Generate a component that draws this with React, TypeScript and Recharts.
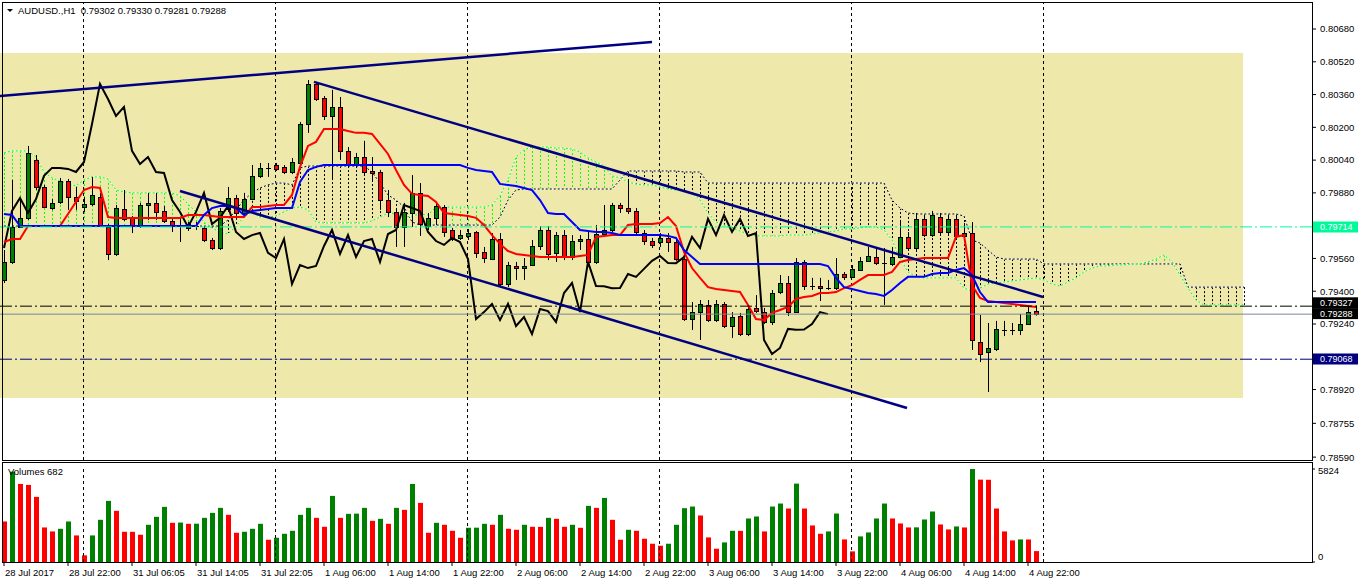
import React from 'react';
import { ComposedChart, Bar, Line, XAxis, YAxis, ReferenceLine, ReferenceArea } from 'recharts';

const FONT = '"Liberation Sans", Arial, sans-serif';
const FS = 9.5;

// ---- hourly candles (AUDUSD H1) ----
const opens = [
  0.79455, 0.79543, 0.79714, 0.79758, 0.80041, 0.79909, 0.79806, 0.79836, 0.79938, 0.79860,
  0.79811, 0.79826, 0.79860, 0.79714, 0.79582, 0.79801, 0.79758, 0.79718, 0.79821, 0.79831,
  0.79792, 0.79743, 0.79718, 0.79728, 0.79718, 0.79709, 0.79650, 0.79611, 0.79801, 0.79855,
  0.79782, 0.79850, 0.79963, 0.80002, 0.80016, 0.80007, 0.79982, 0.80026, 0.80216, 0.80412,
  0.80343, 0.80256, 0.80300, 0.80085, 0.80021, 0.80055, 0.79987, 0.79982, 0.79845, 0.79787,
  0.79714, 0.79782, 0.79880, 0.79718, 0.79758, 0.79811, 0.79699, 0.79660, 0.79670, 0.79689,
  0.79592, 0.79557, 0.79655, 0.79435, 0.79523, 0.79513, 0.79528, 0.79621, 0.79699, 0.79587,
  0.79674, 0.79567, 0.79645, 0.79655, 0.79543, 0.79679, 0.79699, 0.79821, 0.79806, 0.79792,
  0.79684, 0.79645, 0.79640, 0.79660, 0.79640, 0.79557, 0.79264, 0.79298, 0.79333, 0.79259,
  0.79338, 0.79230, 0.79279, 0.79191, 0.79318, 0.79298, 0.79250, 0.79396, 0.79440, 0.79298,
  0.79543, 0.79425, 0.79425, 0.79415, 0.79415, 0.79484, 0.79470, 0.79504, 0.79548, 0.79567,
  0.79538, 0.79533, 0.79567, 0.79665, 0.79611, 0.79753, 0.79674, 0.79762, 0.79689, 0.79753,
  0.79670, 0.79684, 0.79152, 0.79103, 0.79118, 0.79211, 0.79211, 0.79211, 0.79240, 0.79302,
];
const highs = [
  0.79601, 0.79943, 0.79845, 0.80109, 0.80065, 0.79919, 0.79850, 0.79953, 0.79948, 0.79909,
  0.79860, 0.79958, 0.79880, 0.79728, 0.79821, 0.79894, 0.79767, 0.79831, 0.79880, 0.79880,
  0.79816, 0.79758, 0.79762, 0.79738, 0.79738, 0.79718, 0.79660, 0.79806, 0.79909, 0.79870,
  0.79880, 0.80016, 0.80026, 0.80026, 0.80026, 0.80016, 0.80050, 0.80226, 0.80431, 0.80422,
  0.80353, 0.80383, 0.80348, 0.80104, 0.80075, 0.80134, 0.80055, 0.79992, 0.79894, 0.79797,
  0.79831, 0.79967, 0.79928, 0.79782, 0.79836, 0.79821, 0.79709, 0.79699, 0.79704, 0.79694,
  0.79616, 0.79684, 0.79684, 0.79543, 0.79543, 0.79562, 0.79650, 0.79718, 0.79718, 0.79689,
  0.79699, 0.79674, 0.79674, 0.79689, 0.79723, 0.79821, 0.79831, 0.79831, 0.79943, 0.79806,
  0.79699, 0.79660, 0.79684, 0.79684, 0.79650, 0.79562, 0.79347, 0.79357, 0.79357, 0.79357,
  0.79347, 0.79298, 0.79294, 0.79333, 0.79381, 0.79318, 0.79406, 0.79479, 0.79474, 0.79562,
  0.79552, 0.79465, 0.79465, 0.79455, 0.79562, 0.79494, 0.79528, 0.79567, 0.79616, 0.79611,
  0.79611, 0.79616, 0.79748, 0.79689, 0.79782, 0.79772, 0.79792, 0.79782, 0.79772, 0.79767,
  0.79733, 0.79738, 0.79284, 0.79245, 0.79255, 0.79255, 0.79245, 0.79289, 0.79323, 0.79330,
];
const lows = [
  0.79440, 0.79533, 0.79709, 0.79748, 0.79894, 0.79806, 0.79797, 0.79826, 0.79797, 0.79797,
  0.79787, 0.79816, 0.79714, 0.79552, 0.79572, 0.79743, 0.79684, 0.79709, 0.79748, 0.79748,
  0.79733, 0.79689, 0.79640, 0.79694, 0.79699, 0.79640, 0.79601, 0.79601, 0.79787, 0.79777,
  0.79762, 0.79845, 0.79953, 0.79958, 0.79987, 0.79972, 0.79972, 0.80016, 0.80173, 0.80329,
  0.80236, 0.79943, 0.80041, 0.80007, 0.80007, 0.79967, 0.79943, 0.79797, 0.79762, 0.79616,
  0.79616, 0.79714, 0.79670, 0.79699, 0.79723, 0.79665, 0.79645, 0.79650, 0.79650, 0.79562,
  0.79538, 0.79552, 0.79420, 0.79420, 0.79455, 0.79455, 0.79523, 0.79601, 0.79552, 0.79543,
  0.79552, 0.79552, 0.79601, 0.79538, 0.79533, 0.79670, 0.79689, 0.79782, 0.79777, 0.79679,
  0.79626, 0.79611, 0.79616, 0.79592, 0.79548, 0.79255, 0.79211, 0.79162, 0.79250, 0.79250,
  0.79220, 0.79172, 0.79181, 0.79181, 0.79294, 0.79240, 0.79235, 0.79386, 0.79279, 0.79294,
  0.79406, 0.79406, 0.79352, 0.79406, 0.79406, 0.79455, 0.79465, 0.79499, 0.79543, 0.79528,
  0.79333, 0.79523, 0.79562, 0.79601, 0.79601, 0.79665, 0.79665, 0.79679, 0.79679, 0.79660,
  0.79660, 0.79113, 0.79054, 0.78908, 0.79108, 0.79181, 0.79186, 0.79186, 0.79235, 0.79281,
];
const closes = [
  0.79543, 0.79714, 0.79758, 0.80075, 0.79909, 0.79811, 0.79831, 0.79938, 0.79860, 0.79841,
  0.79826, 0.79870, 0.79718, 0.79582, 0.79806, 0.79753, 0.79718, 0.79821, 0.79831, 0.79787,
  0.79743, 0.79723, 0.79723, 0.79709, 0.79718, 0.79650, 0.79611, 0.79792, 0.79855, 0.79782,
  0.79850, 0.79963, 0.80002, 0.80001, 0.79997, 0.79982, 0.80031, 0.80216, 0.80412, 0.80338,
  0.80256, 0.80300, 0.80085, 0.80021, 0.80055, 0.79982, 0.79977, 0.79845, 0.79787, 0.79714,
  0.79787, 0.79880, 0.79728, 0.79758, 0.79816, 0.79689, 0.79655, 0.79674, 0.79684, 0.79587,
  0.79562, 0.79655, 0.79435, 0.79528, 0.79513, 0.79523, 0.79621, 0.79699, 0.79582, 0.79674,
  0.79567, 0.79645, 0.79655, 0.79543, 0.79679, 0.79699, 0.79821, 0.79806, 0.79792, 0.79689,
  0.79645, 0.79626, 0.79660, 0.79640, 0.79557, 0.79264, 0.79298, 0.79338, 0.79259, 0.79338,
  0.79230, 0.79274, 0.79191, 0.79313, 0.79303, 0.79250, 0.79391, 0.79440, 0.79298, 0.79543,
  0.79425, 0.79424, 0.79415, 0.79416, 0.79484, 0.79470, 0.79509, 0.79548, 0.79572, 0.79538,
  0.79537, 0.79567, 0.79665, 0.79611, 0.79753, 0.79674, 0.79772, 0.79689, 0.79753, 0.79670,
  0.79684, 0.79162, 0.79093, 0.79123, 0.79216, 0.79212, 0.79213, 0.79240, 0.79298, 0.79288,
];

// ---- Ichimoku lines ----
const tenkan = [
  0.79640, 0.79655, 0.79655, 0.79718, 0.79718, 0.79718, 0.79718, 0.79718, 0.79777, 0.79836,
  0.79894, 0.79909, 0.79904, 0.79762, 0.79758, 0.79758, 0.79758, 0.79758, 0.79758, 0.79758,
  0.79758, 0.79758, 0.79758, 0.79772, 0.79772, 0.79772, 0.79767, 0.79762, 0.79762, 0.79762,
  0.79762, 0.79811, 0.79811, 0.79816, 0.79821, 0.79821, 0.79870, 0.80007, 0.80109, 0.80129,
  0.80192, 0.80192, 0.80192, 0.80182, 0.80173, 0.80173, 0.80168, 0.80119, 0.80070, 0.79992,
  0.79919, 0.79875, 0.79870, 0.79865, 0.79836, 0.79782, 0.79777, 0.79772, 0.79767, 0.79758,
  0.79723, 0.79674, 0.79631, 0.79596, 0.79582, 0.79577, 0.79572, 0.79567, 0.79567, 0.79567,
  0.79567, 0.79567, 0.79572, 0.79577, 0.79665, 0.79670, 0.79674, 0.79674, 0.79723, 0.79728,
  0.79728, 0.79728, 0.79733, 0.79762, 0.79718, 0.79592, 0.79513, 0.79465, 0.79420, 0.79411,
  0.79406, 0.79401, 0.79396, 0.79333, 0.79264, 0.79259, 0.79294, 0.79308, 0.79323, 0.79362,
  0.79372, 0.79377, 0.79391, 0.79391, 0.79396, 0.79415, 0.79430, 0.79455, 0.79479, 0.79479,
  0.79479, 0.79494, 0.79543, 0.79552, 0.79557, 0.79562, 0.79562, 0.79562, 0.79562, 0.79665,
  0.79674, 0.79430, 0.79367, 0.79352, 0.79347, 0.79342, 0.79338, 0.79333, 0.79328, 0.79323,
];
const kijun = [
  0.79777, 0.79772, 0.79718, 0.79718, 0.79718, 0.79718, 0.79718, 0.79718, 0.79718, 0.79718,
  0.79718, 0.79718, 0.79718, 0.79718, 0.79718, 0.79718, 0.79718, 0.79718, 0.79718, 0.79718,
  0.79718, 0.79718, 0.79718, 0.79718, 0.79718, 0.79772, 0.79806, 0.79816, 0.79816, 0.79806,
  0.79772, 0.79792, 0.79797, 0.79801, 0.79806, 0.79806, 0.79806, 0.79933, 0.79992, 0.80007,
  0.80016, 0.80016, 0.80016, 0.80016, 0.80016, 0.80016, 0.80016, 0.80016, 0.80016, 0.80016,
  0.80016, 0.80016, 0.80016, 0.80016, 0.80016, 0.80016, 0.80016, 0.80016, 0.80002, 0.79992,
  0.79987, 0.79982, 0.79924, 0.79919, 0.79914, 0.79904, 0.79894, 0.79845, 0.79782, 0.79777,
  0.79777, 0.79738, 0.79699, 0.79694, 0.79689, 0.79689, 0.79684, 0.79674, 0.79674, 0.79674,
  0.79674, 0.79674, 0.79674, 0.79670, 0.79660, 0.79601, 0.79567, 0.79533, 0.79533, 0.79533,
  0.79533, 0.79533, 0.79533, 0.79533, 0.79533, 0.79533, 0.79533, 0.79533, 0.79533, 0.79533,
  0.79533, 0.79533, 0.79533, 0.79523, 0.79465, 0.79420, 0.79411, 0.79401, 0.79391, 0.79386,
  0.79377, 0.79406, 0.79440, 0.79470, 0.79470, 0.79470, 0.79484, 0.79489, 0.79489, 0.79504,
  0.79513, 0.79479, 0.79396, 0.79347, 0.79347, 0.79347, 0.79347, 0.79347, 0.79347, 0.79347,
];
const spanA = [
  0.80075, 0.80085, 0.80085, 0.80085, 0.80055, 0.79982, 0.79953, 0.79938, 0.79923, 0.79914,
  0.79943, 0.79958, 0.79958, 0.79948, 0.79894, 0.79885, 0.79880, 0.79880, 0.79880, 0.79880,
  0.79880, 0.79880, 0.79865, 0.79826, 0.79787, 0.79738, 0.79709, 0.79689, 0.79679, 0.79718,
  0.79762, 0.79787, 0.79762, 0.79762, 0.79767, 0.79787, 0.79806, 0.79811, 0.79797, 0.79738,
  0.79733, 0.79733, 0.79733, 0.79733, 0.79733, 0.79733, 0.79743, 0.79762, 0.79782, 0.79777,
  0.79762, 0.79767, 0.79777, 0.79772, 0.79811, 0.79811, 0.79811, 0.79811, 0.79811, 0.79811,
  0.79811, 0.79821, 0.79865, 0.79943, 0.80055, 0.80090, 0.80104, 0.80104, 0.80104, 0.80099,
  0.80099, 0.80094, 0.80080, 0.80050, 0.80031, 0.80012, 0.79963, 0.79953, 0.79933, 0.79923,
  0.79919, 0.79919, 0.79909, 0.79899, 0.79894, 0.79889, 0.79880, 0.79845, 0.79782, 0.79738,
  0.79723, 0.79709, 0.79694, 0.79679, 0.79670, 0.79670, 0.79670, 0.79670, 0.79674, 0.79674,
  0.79674, 0.79679, 0.79684, 0.79689, 0.79694, 0.79704, 0.79704, 0.79709, 0.79714, 0.79714,
  0.79699, 0.79650, 0.79562, 0.79494, 0.79470, 0.79465, 0.79465, 0.79465, 0.79465, 0.79465,
  0.79415, 0.79401, 0.79415, 0.79435, 0.79440, 0.79445, 0.79450, 0.79455, 0.79460, 0.79465,
  0.79455, 0.79435, 0.79425, 0.79445, 0.79465, 0.79494, 0.79513, 0.79523, 0.79523, 0.79528,
  0.79528, 0.79533, 0.79533, 0.79543, 0.79557, 0.79577, 0.79543, 0.79479, 0.79415, 0.79357,
  0.79333, 0.79333, 0.79333, 0.79333, 0.79333, 0.79333,
];
const spanB = [
  0.79718, 0.79718, 0.79718, 0.79718, 0.79718, 0.79718, 0.79718, 0.79718, 0.79718, 0.79718,
  0.79718, 0.79718, 0.79718, 0.79718, 0.79718, 0.79718, 0.79718, 0.79718, 0.79718, 0.79718,
  0.79718, 0.79718, 0.79718, 0.79718, 0.79718, 0.79718, 0.79718, 0.79718, 0.79748, 0.79797,
  0.79845, 0.79880, 0.79904, 0.79919, 0.79928, 0.79928, 0.79919, 0.80002, 0.80011, 0.80011,
  0.80011, 0.80011, 0.80011, 0.80011, 0.80011, 0.80011, 0.79982, 0.79928, 0.79870, 0.79845,
  0.79811, 0.79738, 0.79723, 0.79723, 0.79723, 0.79723, 0.79723, 0.79723, 0.79723, 0.79723,
  0.79723, 0.79723, 0.79762, 0.79845, 0.79894, 0.79899, 0.79899, 0.79899, 0.79899, 0.79899,
  0.79899, 0.79899, 0.79899, 0.79899, 0.79899, 0.79899, 0.79899, 0.79943, 0.79987, 0.79987,
  0.79987, 0.79987, 0.79987, 0.79987, 0.79987, 0.79982, 0.79982, 0.79982, 0.79928, 0.79928,
  0.79928, 0.79928, 0.79928, 0.79928, 0.79928, 0.79928, 0.79928, 0.79928, 0.79928, 0.79928,
  0.79928, 0.79928, 0.79928, 0.79928, 0.79928, 0.79928, 0.79928, 0.79928, 0.79928, 0.79928,
  0.79928, 0.79845, 0.79806, 0.79782, 0.79777, 0.79777, 0.79777, 0.79777, 0.79777, 0.79777,
  0.79767, 0.79650, 0.79635, 0.79601, 0.79567, 0.79557, 0.79557, 0.79557, 0.79557, 0.79557,
  0.79533, 0.79533, 0.79533, 0.79533, 0.79533, 0.79533, 0.79533, 0.79533, 0.79533, 0.79533,
  0.79533, 0.79533, 0.79533, 0.79533, 0.79533, 0.79533, 0.79533, 0.79533, 0.79420, 0.79420,
  0.79420, 0.79420, 0.79420, 0.79420, 0.79420, 0.79420,
];

// ---- tick volumes ----
const volumes = [
  2538, 5658, 4888, 4826, 4077, 2163, 1914, 2080, 2538, 1664,
  416, 1664, 2642, 3827, 3203, 1893, 1890, 1706, 2330, 2829,
  3453, 2454, 2470, 2392, 2400, 2766, 3078, 3390, 2954, 1830,
  1893, 2080, 2392, 1394, 1518, 1768, 1955, 2954, 3390, 2766,
  2205, 4139, 2766, 3016, 3030, 3390, 2579, 2704, 2392, 3390,
  3266, 4888, 3702, 1830, 2454, 2330, 1955, 1518, 2142, 2150,
  2392, 2330, 2954, 2080, 2018, 2330, 2205, 2200, 2766, 2704,
  2205, 2330, 2142, 3515, 3390, 4014, 2642, 1394, 2018, 1955,
  1456, 1144, 1019, 1144, 2330, 3370, 3474, 2912, 1539, 832,
  1227, 1955, 1950, 2725, 2850, 1914, 3474, 3661, 3349, 4909,
  3349, 2288, 1768, 1914, 3037, 1414, 666, 1602, 1851, 2725,
  3661, 2725, 2413, 2163, 2170, 2662, 3162, 2350, 2038, 2226,
  2163, 5824, 5158, 5150, 3349, 1914, 1352, 1414, 1410, 682,
];

// ---- axis labels ----
const priceTicks = [0.8068, 0.8052, 0.8036, 0.802, 0.8004, 0.7988, 0.7956, 0.794, 0.7924, 0.7892, 0.78755, 0.7859];
const timeTickIdx = [0, 8, 16, 24, 32, 40, 48, 56, 64, 72, 80, 88, 96, 104, 112, 120, 128];
const timeLabels = [
  '28 Jul 2017', '28 Jul 22:00', '31 Jul 06:05', '31 Jul 14:05', '31 Jul 22:05', '1 Aug 06:00',
  '1 Aug 14:00', '1 Aug 22:00', '2 Aug 06:00', '2 Aug 14:00', '2 Aug 22:00', '3 Aug 06:00',
  '3 Aug 14:00', '3 Aug 22:00', '4 Aug 06:00', '4 Aug 14:00', '4 Aug 22:00',
];
const dayGrid = [9.94, 33.94, 57.94, 81.94, 105.94, 129.94];

// ---- chart objects ----
const trendLines = [
  { x1: -0.5, y1: 0.80353, x2: 81, y2: 0.80617 },
  { x1: 38.75, y1: 0.80422, x2: 129.875, y2: 0.79372 },
  { x1: 22, y1: 0.79889, x2: 112.875, y2: 0.7883 },
];
const zone = { x1: -0.5, x2: 154.875, y1: 0.78879, y2: 0.80563 };
const levels = [
  { price: 0.79714, color: '#00FA9A', tag: '#00FA9A', dash: '12 3 2 3', label: '0.79714', nudge: 0 },
  { price: 0.79327, color: '#000000', tag: '#000000', dash: '12 3 2 3', label: '0.79327', nudge: -3.2 },
  { price: 0.79288, color: '#778899', tag: '#000000', dash: undefined, label: '0.79288', nudge: -0.4 },
  { price: 0.79068, color: '#000080', tag: '#000080', dash: '12 3 2 3', label: '0.79068', nudge: 0 },
];
const header = 'AUDUSD.,H1  0.79302 0.79330 0.79281 0.79288';
const SHIFT = 26;
const X_DOMAIN: [number, number] = [-0.5, 163.5];
const P_DOMAIN: [number, number] = [0.78576, 0.80807];

const NB = opens.length;
const rows = spanA.map((a, i) => {
  const has = i < NB;
  const b = spanB[i];
  return {
    i,
    candle: has ? [lows[i], highs[i]] : null,
    o: has ? opens[i] : null,
    h: has ? highs[i] : null,
    l: has ? lows[i] : null,
    c: has ? closes[i] : null,
    tenkan: has ? tenkan[i] : null,
    kijun: has ? kijun[i] : null,
    chikou: i + SHIFT < NB ? closes[i + SHIFT] : null,
    spanA: a,
    spanB: b,
    cloud: [Math.min(a, b), Math.max(a, b)],
    vol: has ? volumes[i] : null,
    volUp: has && i > 0 ? volumes[i] > volumes[i - 1] : false,
  };
});

const CandleShape = (props: any) => {
  const { x, y, width, height, payload } = props;
  if (!payload || payload.o == null) return null;
  const c = Math.round(x + width / 2);
  const top = Math.min(y, y + height);
  const h = Math.abs(height);
  const span = payload.h - payload.l || 1e-9;
  const toY = (v: number) => top + ((payload.h - v) / span) * h;
  const yo = toY(payload.o);
  const yc = toY(payload.c);
  const bt = Math.round(Math.min(yo, yc));
  const bb = Math.round(Math.max(yo, yc));
  const bull = payload.c >= payload.o;
  return (
    <g>
      <line x1={c + 0.5} x2={c + 0.5} y1={top} y2={top + h} stroke="#000" strokeWidth={1} />
      {bb - bt < 1 ? (
        <line x1={c - 2} x2={c + 3} y1={bt + 0.5} y2={bt + 0.5} stroke="#000" strokeWidth={1} />
      ) : (
        <rect x={c - 1.5} y={bt + 0.5} width={4} height={bb - bt} fill={bull ? '#008000' : '#FF0000'} stroke="#000" strokeWidth={1} />
      )}
    </g>
  );
};

const HatchShape = (props: any) => {
  const { x, y, width, height, payload } = props;
  if (!payload) return null;
  const c = Math.round(x + width / 2) + 0.5;
  const top = Math.min(y, y + height);
  const bot = Math.max(y, y + height);
  if (bot - top < 1) return null;
  const color = payload.spanA >= payload.spanB ? '#00FF00' : '#000000';
  return <line x1={c} x2={c} y1={top} y2={bot} stroke={color} strokeWidth={1} strokeDasharray="2 2" />;
};

const VolShape = (props: any) => {
  const { x, y, width, height, payload } = props;
  if (!payload || payload.vol == null) return null;
  const c = Math.round(x + width / 2);
  const top = Math.min(y, y + height);
  return <rect x={c - 2} y={top} width={5} height={Math.abs(height)} fill={payload.volUp ? '#008000' : '#FF0000'} />;
};

const PriceTag = (props: any) => {
  const { viewBox, text, bg, nudge } = props;
  if (!viewBox) return null;
  const yy = Math.round(viewBox.y) + (nudge || 0);
  const x0 = viewBox.x + viewBox.width + 1;
  return (
    <g>
      <rect x={x0} y={yy - 5.5} width={46} height={11} fill={bg} />
      <text x={x0 + 7} y={yy + 3.2} fill="#fff" fontSize={9} fontFamily={FONT}>{text}</text>
    </g>
  );
};

const TimeTick = (props: any) => {
  const { x, y, payload } = props;
  const k = timeTickIdx.indexOf(payload.value);
  if (k < 0) return null;
  return (
    <text x={x + 1} y={y + 8} fontSize={FS} fontFamily={FONT} fill="#000" textAnchor="start">
      {timeLabels[k]}
    </text>
  );
};

const VolTick = (props: any) => {
  const { x, y, payload } = props;
  return (
    <text x={x} y={payload.value === 0 ? y - 2 : y + 5} fontSize={FS} fontFamily={FONT} fill="#000" textAnchor="start">
      {payload.value}
    </text>
  );
};

export default function App() {
  return (
    <div style={{ position: 'absolute', left: 0, top: 0, width: 1358, height: 584, background: '#fff', overflow: 'hidden', fontFamily: FONT }}>
      <div style={{ position: 'absolute', left: 0, top: 0 }}>
        <ComposedChart width={1358} height={462} data={rows} margin={{ top: 3, right: 0, bottom: 2, left: 0 }}>
          <XAxis xAxisId="c" dataKey="i" type="number" domain={X_DOMAIN} allowDataOverflow hide />
          <XAxis xAxisId="h" dataKey="i" type="number" domain={X_DOMAIN} allowDataOverflow hide />
          <YAxis
            yAxisId="p"
            orientation="right"
            width={46}
            domain={P_DOMAIN}
            allowDataOverflow
            ticks={priceTicks}
            interval={0}
            tickFormatter={(v: number) => v.toFixed(5)}
            tick={{ fontSize: FS, fill: '#000', fontFamily: FONT }}
            tickSize={4}
            tickMargin={4}
            axisLine={false}
            tickLine={{ stroke: '#000' }}
          />
          <ReferenceArea xAxisId="c" yAxisId="p" x1={zone.x1} x2={zone.x2} y1={zone.y1} y2={zone.y2} fill="#EEE8AA" fillOpacity={1} stroke="none" zIndex={1} />
          {dayGrid.map((d) => (
            <ReferenceLine key={'g' + d} xAxisId="c" yAxisId="p" x={d} stroke="#000" strokeWidth={1} strokeDasharray="3 3" zIndex={2} />
          ))}
          <Bar xAxisId="h" yAxisId="p" dataKey="cloud" barSize={8} shape={HatchShape} isAnimationActive={false} zIndex={3} />
          <Line xAxisId="c" yAxisId="p" dataKey="spanB" stroke="#FFFFFF" strokeWidth={1} dot={false} activeDot={false} isAnimationActive={false} zIndex={4} />
          <Line xAxisId="c" yAxisId="p" dataKey="spanB" stroke="#000000" strokeWidth={1} strokeDasharray="2 2" dot={false} activeDot={false} isAnimationActive={false} zIndex={4} />
          <Line xAxisId="c" yAxisId="p" dataKey="spanA" stroke="#FFFFFF" strokeWidth={1} dot={false} activeDot={false} isAnimationActive={false} zIndex={4} />
          <Line xAxisId="c" yAxisId="p" dataKey="spanA" stroke="#00FF00" strokeWidth={1} strokeDasharray="2 2" dot={false} activeDot={false} isAnimationActive={false} zIndex={4} />
          <Bar xAxisId="c" yAxisId="p" dataKey="candle" barSize={8} shape={CandleShape} isAnimationActive={false} zIndex={5} />
          <Line xAxisId="c" yAxisId="p" dataKey="chikou" stroke="#000000" strokeWidth={2} dot={false} activeDot={false} isAnimationActive={false} zIndex={6} />
          <Line xAxisId="c" yAxisId="p" dataKey="tenkan" stroke="#FF0000" strokeWidth={2} dot={false} activeDot={false} isAnimationActive={false} zIndex={6} />
          <Line xAxisId="c" yAxisId="p" dataKey="kijun" stroke="#0000FF" strokeWidth={2} dot={false} activeDot={false} isAnimationActive={false} zIndex={6} />
          {levels.map((lv) => (
            <ReferenceLine
              key={'l' + lv.label}
              xAxisId="c"
              yAxisId="p"
              y={lv.price}
              stroke={lv.color}
              strokeWidth={1}
              strokeDasharray={lv.dash}
              zIndex={7}
              label={<PriceTag text={lv.label} bg={lv.tag} nudge={lv.nudge} />}
            />
          ))}
          {trendLines.map((t, k) => (
            <ReferenceLine
              key={'t' + k}
              xAxisId="c"
              yAxisId="p"
              segment={[{ x: t.x1, y: t.y1 }, { x: t.x2, y: t.y2 }]}
              stroke="#000080"
              strokeWidth={2.5}
              zIndex={8}
            />
          ))}
        </ComposedChart>
      </div>
      <div style={{ position: 'absolute', left: 0, top: 462 }}>
        <ComposedChart width={1358} height={122} data={rows} margin={{ top: 7, right: 0, bottom: 0, left: 0 }}>
          <XAxis
            xAxisId="v"
            dataKey="i"
            type="number"
            domain={X_DOMAIN}
            allowDataOverflow
            ticks={timeTickIdx}
            interval={0}
            height={22}
            tick={<TimeTick />}
            tickSize={4}
            tickMargin={2}
            axisLine={false}
            tickLine={{ stroke: '#000' }}
          />
          <YAxis
            yAxisId="v"
            orientation="right"
            width={46}
            domain={[0, 5824]}
            allowDataOverflow
            ticks={[0, 5824]}
            interval={0}
            tick={<VolTick />}
            tickSize={3}
            tickMargin={3}
            axisLine={false}
            tickLine={{ stroke: '#000' }}
          />
          {dayGrid.map((d) => (
            <ReferenceLine key={'vg' + d} xAxisId="v" yAxisId="v" x={d} stroke="#000" strokeWidth={1} strokeDasharray="3 3" />
          ))}
          <Bar xAxisId="v" yAxisId="v" dataKey="vol" barSize={8} shape={VolShape} isAnimationActive={false} />
        </ComposedChart>
      </div>
      {/* panel frames */}
      <div style={{ position: 'absolute', left: 2, top: 2, width: 1309, height: 457, border: '1px solid #000', pointerEvents: 'none' }} />
      <div style={{ position: 'absolute', left: 2, top: 462, width: 1309, height: 99, border: '1px solid #000', pointerEvents: 'none' }} />
      {/* header */}
      <svg style={{ position: 'absolute', left: 0, top: 0 }} width={16} height={16}>
        <polygon points="7,9 13,9 10,12" fill="#000" />
      </svg>
      <div style={{ position: 'absolute', left: 18, top: 4, fontSize: FS, lineHeight: '14px', color: '#000', whiteSpace: 'pre' }}>{header}</div>
      <div style={{ position: 'absolute', left: 8, top: 465, fontSize: FS, lineHeight: '14px', color: '#000', whiteSpace: 'pre' }}>Volumes 682</div>
    </div>
  );
}
